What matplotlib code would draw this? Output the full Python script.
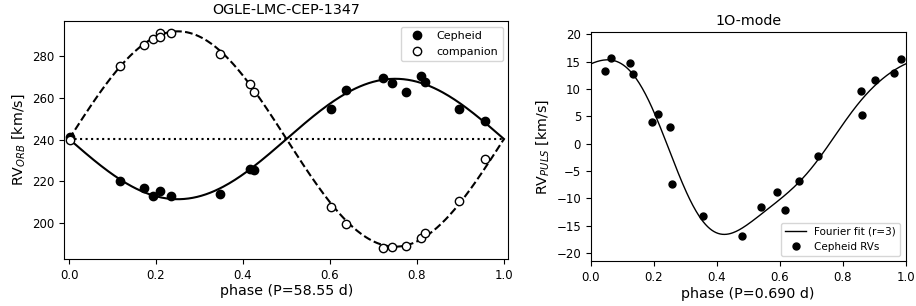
import numpy as np
import matplotlib
matplotlib.use('Agg')
import matplotlib.pyplot as plt

# %%
# orbital RVs
orb_phase = [0.001, 0.116, 0.173, 0.193, 0.210, 0.234, 0.348, 0.416, 0.425,
             0.602, 0.637, 0.723, 0.742, 0.774, 0.809, 0.819, 0.896, 0.956]
rv_cep = [241.1, 220.4, 216.7, 213.2, 215.5, 213.2, 214.2, 226.0, 225.3,
          254.8, 263.9, 269.5, 267.3, 262.6, 270.3, 267.7, 254.7, 248.9]
rv_comp_phase = [0.001, 0.116, 0.173, 0.193, 0.210, 0.210, 0.234, 0.348, 0.416, 0.425,
                 0.602, 0.637, 0.723, 0.742, 0.774, 0.809, 0.819, 0.896, 0.956]
rv_comp = [239.8, 275.1, 285.3, 288.3, 290.8, 289.2, 290.8, 281.0, 266.8, 262.8,
           207.6, 199.8, 188.0, 188.5, 189.3, 193.0, 195.2, 210.5, 230.6]

# orbit solution
gamma = 240.3
K_cep = 28.8
K_comp = 51.5

# pulsation RVs
puls_phase = [0.045, 0.064, 0.125, 0.135, 0.196, 0.215, 0.251, 0.258, 0.356, 0.481,
              0.542, 0.592, 0.618, 0.661, 0.721, 0.857, 0.862, 0.903, 0.963, 0.985]
rv_puls = [13.2, 15.7, 14.7, 12.7, 4.0, 5.5, 3.0, -7.4, -13.3, -16.8,
           -11.6, -8.8, -12.1, -6.9, -2.3, 9.6, 5.2, 11.6, 12.9, 15.5]
order = 3

# %%
fig = plt.figure(figsize=(9.16, 3.06), dpi=100)
ax1 = fig.add_axes([0.0702, 0.1536, 0.4847, 0.7768])
ax2 = fig.add_axes([0.6449, 0.1461, 0.3437, 0.7493])

ph = np.linspace(0, 1, 300)
ax1.plot(ph, gamma - K_cep * np.sin(2 * np.pi * ph), 'k-', lw=1.5)
ax1.plot(ph, gamma + K_comp * np.sin(2 * np.pi * ph), 'k--', lw=1.5)
ax1.plot([0, 1], [gamma, gamma], 'k:', lw=1.5)
ax1.plot(orb_phase, rv_cep, 'ko', ms=6, label='Cepheid')
ax1.plot(rv_comp_phase, rv_comp, 'o', mfc='white', mec='k', ms=6, label='companion')
ax1.set_xlim(-0.011, 1.010)
ax1.set_ylim(182.9, 296.6)
ax1.set_title('OGLE-LMC-CEP-1347', fontsize=10.3, pad=5)
ax1.set_xlabel('phase (P=58.55 d)', fontsize=10.3, labelpad=2)
ax1.set_ylabel('RV$_{ORB}$ [km/s]', fontsize=10.3)
ax1.legend(loc='upper right', fontsize=8)

# fourier fit of order r
x = np.array(puls_phase)
cols = [np.ones_like(x)]
for k in range(1, order + 1):
    cols += [np.cos(2 * np.pi * k * x), np.sin(2 * np.pi * k * x)]
coef = np.linalg.lstsq(np.array(cols).T, np.array(rv_puls), rcond=None)[0]
fit = coef[0] * np.ones_like(ph)
for k in range(1, order + 1):
    fit += coef[2 * k - 1] * np.cos(2 * np.pi * k * ph) + coef[2 * k] * np.sin(2 * np.pi * k * ph)

ax2.plot(ph, fit, 'k-', lw=1, label='Fourier fit (r=3)')
ax2.plot(puls_phase, rv_puls, 'ko', ms=5, label='Cepheid RVs')
ax2.set_xlim(0, 1)
ax2.set_ylim(-21.5, 20.4)
ax2.set_title('1O-mode', fontsize=10.3, pad=5)
ax2.set_xlabel('phase (P=0.690 d)', fontsize=10.3, labelpad=2)
ax2.set_ylabel('RV$_{PULS}$ [km/s]', fontsize=10.3)
ax2.legend(loc='lower right', fontsize=7.5)

for ax in (ax1, ax2):
    ax.tick_params(labelsize=8.5)

fig.savefig('out.png', dpi=100)
